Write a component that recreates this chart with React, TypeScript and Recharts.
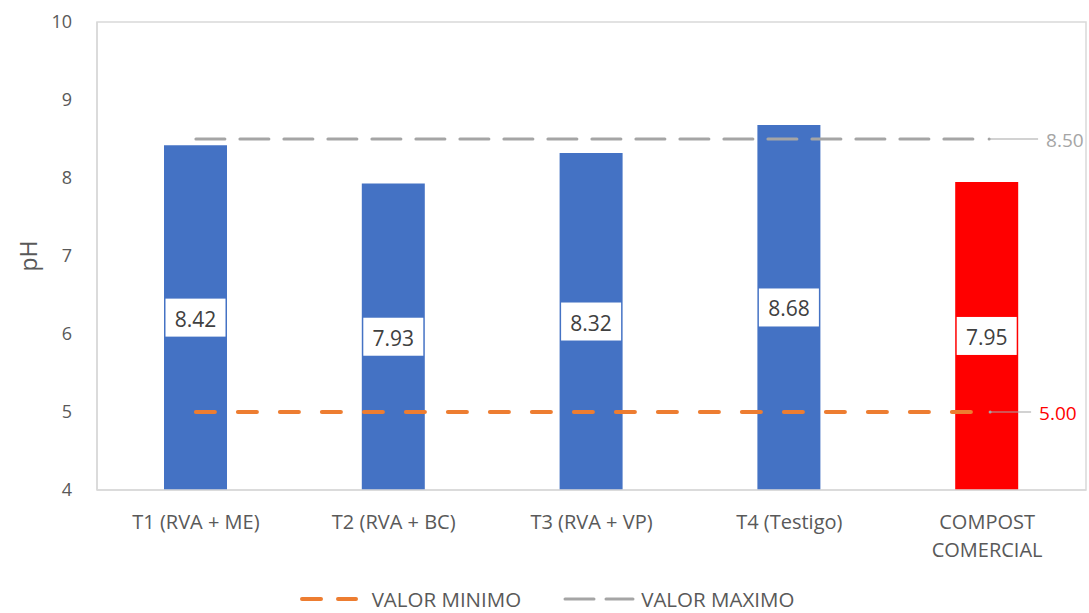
import React from 'react';
import {
  ComposedChart,
  Bar,
  Line,
  XAxis,
  YAxis,
  Cell,
  LabelList,
  Legend,
  ReferenceArea,
} from 'recharts';

// Category tick labels, one entry per printed line
const tickLines: string[][] = [
  ['T1 (RVA + ME)'],
  ['T2 (RVA + BC)'],
  ['T3 (RVA + VP)'],
  ['T4 (Testigo)'],
  ['COMPOST', 'COMERCIAL'],
];
const categories = tickLines.map((l) => l.join(' '));

// Measured pH per treatment
const phValues = [8.42, 7.93, 8.32, 8.68, 7.95];

// Reference limits
const minValues = [5, 5, 5, 5, 5];
const maxValues = [8.5, 8.5, 8.5, 8.5, 8.5];

const yTicks = [4, 5, 6, 7, 8, 9, 10];

const BLUE = '#4472C4';
const RED = '#FF0000';
const ORANGE = '#ED7D31';
const GRAY = '#A5A5A5';
const TEXT = '#595959';
const BORDER = '#D9D9D9';
const FONT = '"Open Sans", sans-serif';

const barColors = [BLUE, BLUE, BLUE, BLUE, RED];

const data = categories.map((name, i) => ({
  name,
  ph: phValues[i],
  min: minValues[i],
  max: maxValues[i],
}));

const CategoryTick = (props: any) => {
  const { x, y, index } = props;
  const lines = tickLines[index] || [String(props.payload?.value)];
  return (
    <text
      x={x}
      y={y + 39}
      textAnchor="middle"
      fill={TEXT}
      fontSize={20}
      fontFamily={FONT}
    >
      {lines.map((ln, i) => (
        <tspan key={i} x={x} dy={i === 0 ? 0 : 28}>
          {ln}
        </tspan>
      ))}
    </text>
  );
};

const BarValueLabel = (props: any) => {
  const { x, y, width, height, value } = props;
  const cx = x + width / 2;
  const cy = y + height / 2;
  const w = 60;
  const h = 38;
  return (
    <g>
      <rect x={cx - w / 2} y={cy - h / 2} width={w} height={h} fill="#FFFFFF" />
      <text
        x={cx}
        y={cy + 1}
        textAnchor="middle"
        dominantBaseline="central"
        fill="#404040"
        fontSize={21}
        fontFamily={FONT}
      >
        {Number(value).toFixed(2)}
      </text>
    </g>
  );
};

const makeEndLabel =
  (color: string, leaderStart: number, leaderEnd: number, textGap: number) =>
  (props: any) => {
    const { x, y, index, value } = props;
    if (index !== categories.length - 1) return null;
    return (
      <g>
        <circle cx={x + leaderStart} cy={y} r={1.5} fill={GRAY} />
        <line
          x1={x + leaderStart}
          y1={y}
          x2={x + leaderEnd}
          y2={y}
          stroke={GRAY}
          strokeWidth={1.2}
        />
        <text
          x={x + leaderEnd + textGap}
          y={y + 1}
          dominantBaseline="central"
          fill={color}
          fontSize={19}
          fontFamily={FONT}
        >
          {Number(value).toFixed(2)}
        </text>
      </g>
    );
  };

const LegendContent = () => (
  <div
    style={{
      height: 34,
      paddingTop: 10,
      boxSizing: 'border-box',
      display: 'flex',
      justifyContent: 'center',
      fontFamily: FONT,
      fontSize: 20.5,
      lineHeight: '20px',
      color: TEXT,
      paddingLeft: 6,
    }}
  >
    <div style={{ display: 'flex', alignItems: 'center', height: 20 }}>
      <svg width={60} height={10} style={{ marginRight: 14 }}>
        <line
          x1={4}
          y1={5}
          x2={58}
          y2={5}
          stroke={ORANGE}
          strokeWidth={4}
          strokeLinecap="round"
          strokeDasharray="19 17"
        />
      </svg>
      <span>VALOR MINIMO</span>
      <svg width={72} height={10} style={{ marginLeft: 42, marginRight: 6 }}>
        <line
          x1={2}
          y1={5}
          x2={70}
          y2={5}
          stroke={GRAY}
          strokeWidth={3}
          strokeLinecap="round"
          strokeDasharray="29 12"
        />
      </svg>
      <span>VALOR MAXIMO</span>
    </div>
  </div>
);

export default function App() {
  return (
    <div style={{ position: 'absolute', left: 0, top: 0 }}>
      <ComposedChart
        width={1089}
        height={613}
        data={data}
        margin={{ top: 22, right: 3, bottom: 0, left: 0 }}
        barCategoryGap={0}
      >
        <XAxis
          dataKey="name"
          interval={0}
          tickLine={false}
          tickSize={0}
          tickMargin={0}
          axisLine={{ stroke: BORDER, strokeWidth: 1.5 }}
          height={89}
          tick={<CategoryTick />}
        />
        <YAxis
          domain={[4, 10]}
          ticks={yTicks}
          width={97}
          tickLine={false}
          tickSize={0}
          tickMargin={25}
          axisLine={{ stroke: BORDER, strokeWidth: 1.5 }}
          tick={{ fill: TEXT, fontSize: 18, fontFamily: FONT }}
          label={(p: any) => {
            const vb = p.viewBox || {};
            const cy = (vb.y || 22) + (vb.height || 468) / 2;
            return (
              <text
                x={28}
                y={cy}
                transform={`rotate(-90, 28, ${cy})`}
                textAnchor="middle"
                dominantBaseline="central"
                fill={TEXT}
                fontSize={23}
                fontFamily={FONT}
              >
                pH
              </text>
            );
          }}
        />
        {/* Plot frame */}
        <ReferenceArea
          x1={categories[0]}
          x2={categories[categories.length - 1]}
          y1={yTicks[0]}
          y2={yTicks[yTicks.length - 1]}
          fill="none"
          stroke={BORDER}
          strokeWidth={1.5}
          ifOverflow="visible"
        />
        <Legend verticalAlign="bottom" content={<LegendContent />} />
        <Bar dataKey="ph" barSize={63} isAnimationActive={false}>
          {data.map((d, i) => (
            <Cell key={d.name} fill={barColors[i]} />
          ))}
          <LabelList dataKey="ph" content={<BarValueLabel />} />
        </Bar>
        <Line
          dataKey="max"
          stroke={GRAY}
          strokeWidth={3}
          strokeLinecap="round"
          strokeDasharray="29 15"
          dot={false}
          activeDot={false}
          isAnimationActive={false}
        >
          <LabelList dataKey="max" content={makeEndLabel(GRAY, 2, 51, 8)} />
        </Line>
        <Line
          dataKey="min"
          stroke={ORANGE}
          strokeWidth={4}
          strokeLinecap="round"
          strokeDasharray="19 23"
          dot={false}
          activeDot={false}
          isAnimationActive={false}
        >
          <LabelList dataKey="min" content={makeEndLabel(RED, 3, 44, 8)} />
        </Line>
      </ComposedChart>
    </div>
  );
}
